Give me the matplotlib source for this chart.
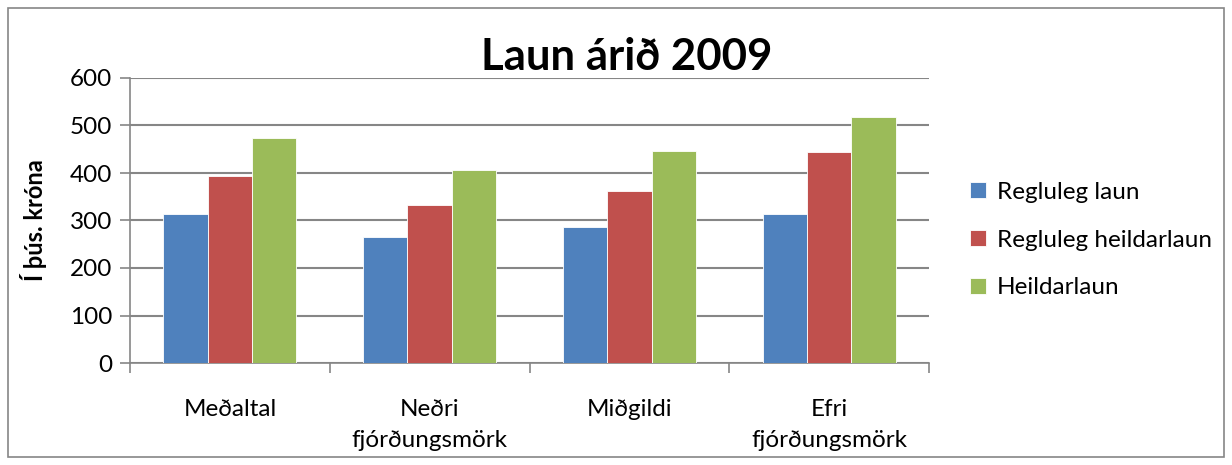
import matplotlib.pyplot as plt
import numpy as np
from matplotlib.patches import Rectangle

# Gögn lesin af myndinni (þús. króna)
flokkar = ["Meðaltal", "Neðri\nfjórðungsmörk", "Miðgildi", "Efri\nfjórðungsmörk"]
regluleg_laun = [314, 265, 286, 314]
regluleg_heildarlaun = [394, 333, 363, 444]
heildarlaun = [473, 407, 446, 518]
raðir = ["Regluleg laun", "Regluleg heildarlaun", "Heildarlaun"]
litir = ["#4F81BD", "#C0504D", "#9BBB59"]

plt.rcParams["font.family"] = ["Lato", "DejaVu Sans"]

fig = plt.figure(figsize=(12.32, 4.65), dpi=100)
ax = fig.add_axes([130 / 1232, 1 - 363 / 465, (929 - 130) / 1232, (363 - 78) / 465])

x = np.arange(len(flokkar))
breidd = 0.222
for i, (gildi, nafn, litur) in enumerate(zip([regluleg_laun, regluleg_heildarlaun, heildarlaun], raðir, litir)):
    ax.bar(x + (i - 1) * breidd, gildi, width=breidd, color=litur, label=nafn,
           edgecolor="white", linewidth=0.6, zorder=3)

ax.set_xlim(-0.5, len(flokkar) - 0.5)
ax.set_ylim(0, 600)
ax.set_yticks(range(0, 601, 100))
ax.yaxis.grid(True, color="#868686", linewidth=1.5, zorder=0)
ax.set_axisbelow(True)

# Flokkamerki miðjuð, strik á mörkum flokka
ax.set_xticks(x)
ax.set_xticklabels(flokkar, fontsize=17.5, linespacing=1.6, va="top")
ax.tick_params(axis="x", length=0, pad=26)
ax.set_xticks(np.arange(-0.5, len(flokkar)), minor=True)
ax.tick_params(axis="x", which="minor", length=7, color="#868686", width=1.2)
ax.tick_params(axis="y", length=7, color="#868686", width=1.2, labelsize=17.5, pad=6)

for s in ["top", "right"]:
    ax.spines[s].set_visible(False)
for s in ["left", "bottom"]:
    ax.spines[s].set_color("#868686")
    ax.spines[s].set_linewidth(1.2)

ax.set_ylabel("Í þús. króna", fontsize=17, fontweight="bold", labelpad=16)

fig.text(627 / 1232, 1 - 57 / 465, "Laun árið 2009", fontsize=31.5, fontweight="bold",
         ha="center", va="center")

ax.legend(loc="center left", bbox_to_anchor=(970 / 1232, 1 - 240 / 465),
          bbox_transform=fig.transFigure, frameon=False, fontsize=17.5,
          handlelength=0.65, handleheight=0.65, handletextpad=0.45, labelspacing=1.1,
          borderaxespad=0, borderpad=0)

fig.patches.append(Rectangle((8 / 1232, 8 / 465), 1216 / 1232, 449 / 465,
                             transform=fig.transFigure, fill=False,
                             edgecolor="#868686", linewidth=1.2))

fig.savefig("out.png", dpi=100)
